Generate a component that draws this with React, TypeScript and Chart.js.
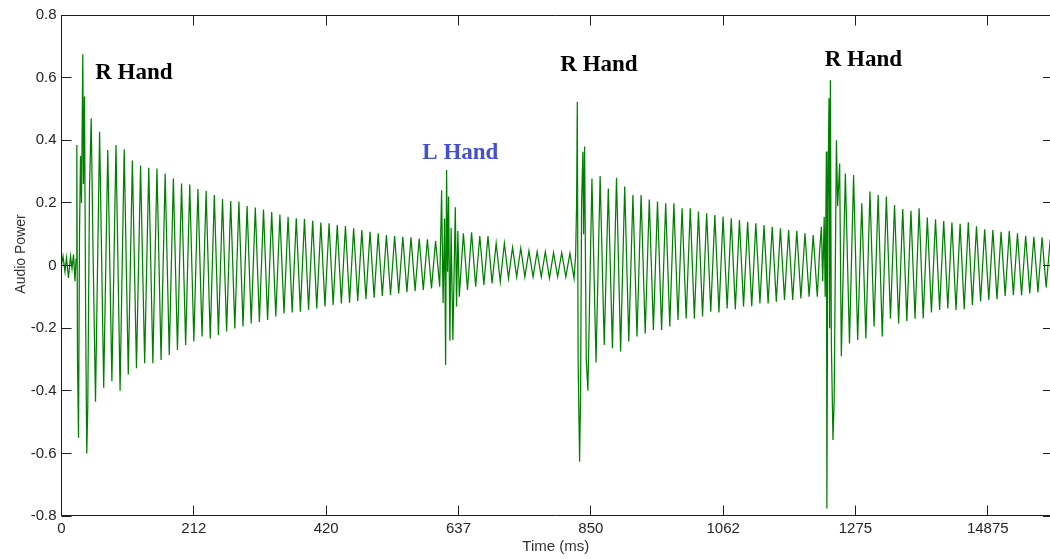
import React, { useEffect, useRef } from 'react';
import { Chart, registerables } from 'chart.js';

Chart.register(...registerables);

// ---------- data (time in ms, amplitude in audio power units) ----------
const HALF_CYCLE_MS = 6.58;

const xTickValues = [0, 212.5, 425, 637.5, 850, 1062.5, 1275, 1487.5];
const xTickLabels = ['0', '212', '420', '637', '850', '1062', '1275', '14875'];
const yTickValues = [-0.8, -0.6, -0.4, -0.2, 0, 0.2, 0.4, 0.6, 0.8];
const yTickLabels = ['-0.8', '-0.6', '-0.4', '-0.2', '0', '0.2', '0.4', '0.6', '0.8'];

// burst 1 (R Hand)
const onset1Times = [0, 2.4, 5.6, 8.0, 11.2, 14.5, 16.9, 19.3, 21.7, 23.3, 24.6, 25.7, 27.3, 28.9, 30.5, 32.1, 34.2, 35.3, 36.9, 38.9, 40.6, 42.2, 45.0, 47.7, 50.6];
const onset1Values = [0.0, 0.03, -0.02, 0.025, -0.04, 0.03, -0.01, 0.035, -0.05, 0.02, 0.385, -0.3, -0.55, 0.1, 0.35, 0.2, 0.675, 0.26, 0.54, -0.2, -0.6, -0.45, 0.25, 0.47, 0.05];
const decay1Start = 54.6;
const decay1Low = [-0.435, -0.39, -0.37, -0.40, -0.348, -0.328, -0.312, -0.312, -0.302, -0.286, -0.27, -0.254, -0.243, -0.227, -0.233, -0.222, -0.211, -0.201, -0.195, -0.185, -0.18, -0.174, -0.163, -0.153, -0.15, -0.148, -0.142, -0.137, -0.131, -0.126, -0.121, -0.119, -0.113, -0.107, -0.103, -0.097, -0.094, -0.089, -0.085, -0.081, -0.078, -0.073, -0.068];
const decay1High = [0.427, 0.369, 0.385, 0.371, 0.335, 0.319, 0.312, 0.31, 0.294, 0.278, 0.262, 0.259, 0.244, 0.238, 0.225, 0.212, 0.206, 0.204, 0.19, 0.185, 0.179, 0.171, 0.163, 0.156, 0.151, 0.149, 0.143, 0.137, 0.135, 0.129, 0.126, 0.119, 0.113, 0.108, 0.103, 0.097, 0.094, 0.092, 0.09, 0.086, 0.084, 0.079];

// burst 2 (L Hand)
const onset2Times = [610.4, 612.8, 615.2, 616.8, 618.4, 620.0, 621.6, 623.7, 625.6, 628.5, 632.4, 634.4, 636.5];
const onset2Values = [0.24, -0.12, 0.15, -0.318, 0.305, -0.02, 0.22, -0.24, 0.12, -0.238, 0.186, -0.131, 0.11];
const decay2Start = 638.8;
const decay2Low = [-0.1, -0.078, -0.068, -0.062, -0.057, -0.052, -0.041, -0.036, -0.037, -0.036, -0.036, -0.041, -0.036, -0.036, -0.041];
const decay2High = [0.103, 0.106, 0.094, 0.094, 0.071, 0.071, 0.058, 0.055, 0.047, 0.044, 0.044, 0.041, 0.041, 0.039];

// burst 3 (R Hand)
const onset3Times = [825.6, 827.2, 828.3, 829.6, 832.0, 833.6, 835.2, 837.3, 838.4, 840.0, 842.7, 845.3];
const onset3Values = [0.03, 0.2, 0.523, -0.3, -0.627, -0.41, 0.2, 0.363, 0.1, 0.38, -0.3, -0.4];
const decay3Start = 851.8;
const decay3High = [0.278, 0.286, 0.246, 0.28, 0.252, 0.225, 0.225, 0.211, 0.204, 0.199, 0.199, 0.183, 0.183, 0.172, 0.167, 0.161, 0.156, 0.151, 0.145, 0.14, 0.135, 0.129, 0.124, 0.119, 0.113, 0.111, 0.103, 0.097];
const decay3Low = [-0.31, -0.254, -0.264, -0.275, -0.243, -0.227, -0.217, -0.206, -0.206, -0.195, -0.174, -0.169, -0.169, -0.163, -0.148, -0.15, -0.137, -0.14, -0.131, -0.13, -0.121, -0.121, -0.116, -0.11, -0.11, -0.105, -0.1, -0.1];

// burst 4 (R Hand)
const onset4Times = [1217.5, 1220.3, 1222.4, 1224.8, 1226.4, 1228.3, 1229.1, 1230.7, 1232.5, 1233.6, 1234.7, 1236.3, 1238.9, 1240.8, 1244.4, 1246.4, 1249.6, 1252.3];
const onset4Values = [0.05, 0.124, -0.05, 0.156, -0.1, 0.364, -0.776, 0.2, 0.534, -0.2, 0.592, -0.249, -0.557, -0.43, 0.4, 0.19, 0.326, -0.29];
const decay4Start = 1258.8;
const decay4High = [0.294, 0.289, 0.199, 0.236, 0.225, 0.22, 0.193, 0.18, 0.175, 0.183, 0.153, 0.148, 0.142, 0.137, 0.133, 0.138, 0.125, 0.116, 0.113, 0.108, 0.11, 0.103, 0.095, 0.092, 0.09, 0.083];
const decay4Low = [-0.249, -0.238, -0.233, -0.195, -0.227, -0.169, -0.185, -0.177, -0.17, -0.169, -0.15, -0.142, -0.137, -0.142, -0.14, -0.126, -0.115, -0.11, -0.108, -0.097, -0.095, -0.095, -0.089, -0.086, -0.07];

// annotations (anchor = left end of text baseline, in data units)
const annotationTexts = ['R Hand', 'L Hand', 'R Hand', 'R Hand'];
const annotationTimes = [54.1, 579.4, 801.0, 1225.5];
const annotationValues = [0.595, 0.339, 0.622, 0.637];
const annotationColors = ['#000000', '#4350d2', '#000000', '#000000'];

// ---------- helpers ----------
type Pt = { x: number; y: number };

function onsetPoints(times: number[], values: number[]): Pt[] {
  return times.map((t, i) => ({ x: t, y: values[i] }));
}

function decayPoints(start: number, first: number[], second: number[]): Pt[] {
  const pts: Pt[] = [];
  const n = Math.max(first.length, second.length);
  for (let i = 0; i < n; i++) {
    if (i < first.length) pts.push({ x: start + 2 * i * HALF_CYCLE_MS, y: first[i] });
    if (i < second.length) pts.push({ x: start + (2 * i + 1) * HALF_CYCLE_MS, y: second[i] });
  }
  return pts;
}

const SANS = '"Liberation Sans", Arial, Helvetica, sans-serif';
const SERIF = '"Liberation Serif", "Times New Roman", serif';

const framePlugin = {
  id: 'matlabFrame',
  afterDatasetsDraw(chart: any) {
    const { ctx, chartArea: a, scales } = chart;
    const xs = scales.x;
    const ys = scales.y;
    const L = Math.floor(a.left) + 0.5;
    const T = Math.floor(a.top) + 0.5;
    const B = Math.floor(a.bottom) - 0.5;
    const R = chart.width;
    ctx.save();
    ctx.strokeStyle = '#1e1e1e';
    ctx.lineWidth = 1;
    ctx.beginPath();
    ctx.moveTo(L - 0.5, T);
    ctx.lineTo(R, T);
    ctx.moveTo(L - 0.5, B);
    ctx.lineTo(R, B);
    ctx.moveTo(L, T - 0.5);
    ctx.lineTo(L, B + 0.5);
    ctx.stroke();

    ctx.beginPath();
    xTickValues.forEach((v) => {
      const px = Math.floor(xs.getPixelForValue(v)) + 0.5;
      ctx.moveTo(px, B);
      ctx.lineTo(px, B - 10);
      ctx.moveTo(px, T);
      ctx.lineTo(px, T + 10);
    });
    yTickValues.forEach((v) => {
      const py = Math.floor(ys.getPixelForValue(v)) + 0.5;
      ctx.moveTo(L, py);
      ctx.lineTo(L + 10, py);
      ctx.moveTo(R - 7, py);
      ctx.lineTo(R, py);
    });
    ctx.stroke();

    // axis titles
    ctx.fillStyle = '#333333';
    ctx.font = '15px ' + SANS;
    ctx.textAlign = 'center';
    ctx.textBaseline = 'middle';
    ctx.fillText('Time (ms)', (a.left + a.right) / 2, 547);

    ctx.save();
    ctx.translate(21, 254);
    ctx.rotate(-Math.PI / 2);
    ctx.font = '14px ' + SANS;
    ctx.fillText('Audio Power', 0, 0);
    ctx.restore();

    // annotations
    ctx.font = 'bold 23px ' + SERIF;
    ctx.textAlign = 'left';
    ctx.textBaseline = 'alphabetic';
    annotationTexts.forEach((txt, i) => {
      ctx.fillStyle = annotationColors[i];
      ctx.fillText(txt, xs.getPixelForValue(annotationTimes[i]), ys.getPixelForValue(annotationValues[i]));
    });
    ctx.restore();
  },
};

export default function App() {
  const canvasRef = useRef<HTMLCanvasElement | null>(null);

  useEffect(() => {
    const canvas = canvasRef.current;
    if (!canvas) return;

    const points: Pt[] = [
      ...onsetPoints(onset1Times, onset1Values),
      ...decayPoints(decay1Start, decay1Low, decay1High),
      ...onsetPoints(onset2Times, onset2Values),
      ...decayPoints(decay2Start, decay2Low, decay2High),
      ...onsetPoints(onset3Times, onset3Values),
      ...decayPoints(decay3Start, decay3High, decay3Low),
      ...onsetPoints(onset4Times, onset4Values),
      ...decayPoints(decay4Start, decay4High, decay4Low),
    ].sort((p, q) => p.x - q.x);

    const chart = new Chart(canvas, {
      type: 'line',
      data: {
        datasets: [
          {
            data: points,
            borderColor: '#008000',
            borderWidth: 1.25,
            pointRadius: 0,
            tension: 0,
            fill: false,
          },
        ],
      },
      options: {
        animation: false,
        responsive: false,
        events: [],
        layout: { padding: { top: 15, left: 0, right: 0, bottom: 0 } },
        plugins: { legend: { display: false }, tooltip: { enabled: false } },
        scales: {
          x: {
            type: 'linear',
            min: 0,
            max: 1587.4,
            grid: { display: false, drawTicks: false },
            border: { display: false },
            afterBuildTicks: (scale: any) => {
              scale.ticks = xTickValues.map((v) => ({ value: v }));
            },
            afterFit: (scale: any) => {
              scale.height = 43;
            },
            ticks: {
              autoSkip: false,
              maxRotation: 0,
              padding: 4,
              color: '#262626',
              font: { family: SANS, size: 15 },
              callback: (_v: any, i: number) => xTickLabels[i],
            },
          },
          y: {
            type: 'linear',
            min: -0.8,
            max: 0.8,
            grid: { display: false, drawTicks: false },
            border: { display: false },
            afterBuildTicks: (scale: any) => {
              scale.ticks = yTickValues.map((v) => ({ value: v }));
            },
            afterFit: (scale: any) => {
              scale.width = 61.5;
            },
            ticks: {
              autoSkip: false,
              padding: 5,
              color: '#262626',
              font: { family: SANS, size: 15 },
              callback: (_v: any, i: number) => yTickLabels[i],
            },
          },
        },
      },
      plugins: [framePlugin],
    } as any);

    return () => chart.destroy();
  }, []);

  return (
    <div style={{ position: 'absolute', left: 0, top: 0, width: 1050, height: 559, background: '#ffffff' }}>
      <canvas ref={canvasRef} width={1050} height={559} style={{ display: 'block' }} />
    </div>
  );
}
